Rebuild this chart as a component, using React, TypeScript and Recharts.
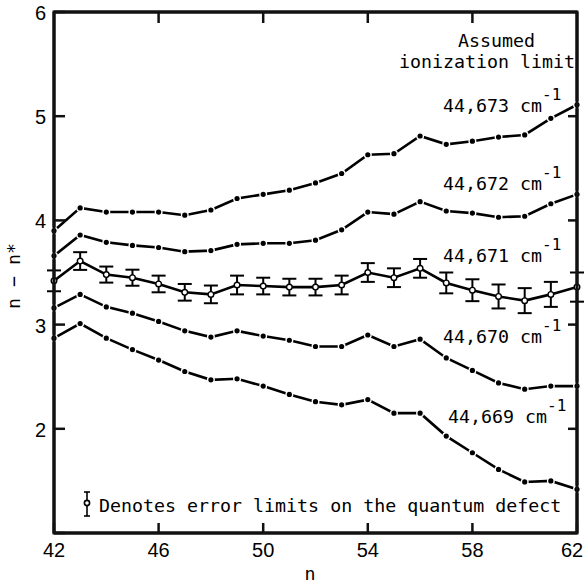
import { LineChart, Line, XAxis, YAxis, ErrorBar } from 'recharts';

const nValues = [42, 43, 44, 45, 46, 47, 48, 49, 50, 51, 52, 53, 54, 55, 56, 57, 58, 59, 60, 61, 62];
const limit673 = [3.90, 4.12, 4.08, 4.08, 4.08, 4.05, 4.10, 4.21, 4.25, 4.29, 4.36, 4.45, 4.63, 4.64, 4.81, 4.73, 4.76, 4.80, 4.82, 4.98, 5.11];
const limit672 = [3.66, 3.86, 3.79, 3.76, 3.74, 3.70, 3.71, 3.77, 3.78, 3.78, 3.81, 3.91, 4.08, 4.06, 4.18, 4.09, 4.07, 4.03, 4.04, 4.16, 4.25];
const limit671 = [3.42, 3.61, 3.48, 3.45, 3.39, 3.31, 3.29, 3.38, 3.37, 3.36, 3.36, 3.38, 3.50, 3.45, 3.54, 3.40, 3.33, 3.27, 3.23, 3.29, 3.36];
const error671 = [0.10, 0.085, 0.077, 0.077, 0.08, 0.08, 0.085, 0.09, 0.08, 0.08, 0.08, 0.09, 0.09, 0.09, 0.09, 0.10, 0.105, 0.115, 0.12, 0.12, 0.14];
const limit670 = [3.16, 3.29, 3.17, 3.11, 3.03, 2.94, 2.88, 2.94, 2.89, 2.85, 2.79, 2.79, 2.90, 2.79, 2.86, 2.68, 2.56, 2.44, 2.38, 2.41, 2.41];
const limit669 = [2.87, 3.01, 2.87, 2.76, 2.66, 2.55, 2.47, 2.48, 2.41, 2.33, 2.26, 2.23, 2.28, 2.15, 2.15, 1.93, 1.77, 1.61, 1.49, 1.50, 1.42];

const xTicks = [42, 46, 50, 54, 58, 62];
const yTicks = [1, 2, 3, 4, 5, 6];
const innerXTicks = [46, 50, 54, 58];
const innerYTicks = [2, 3, 4, 5];

const data = nValues.map((n, i) => ({
  n,
  l673: limit673[i],
  l672: limit672[i],
  l671: limit671[i],
  err: error671[i],
  l670: limit670[i],
  l669: limit669[i],
}));

const W = 584;
const H = 586;
const MONO = '"DejaVu Sans Mono", "Liberation Mono", monospace';
const SANS = '"Liberation Sans", Arial, sans-serif';

// plot box (54..577 x 12..533)
const PL = 54;
const PR = 577;
const PT = 12;
const PB = 533;

// tick lines point inward (negative tickSize), labels placed by hand
const BottomTick = ({ x, y, payload }: any) => (
  <text x={payload.value === 62 ? x - 4 : x} y={y + 34} textAnchor="middle" fontFamily={SANS} fontSize={20} fill="#000">
    {payload.value}
  </text>
);

const LeftTick = ({ x, y, payload }: any) =>
  payload.value === 1 ? (
    <g />
  ) : (
    <text x={x - 19} y={y + 8} textAnchor="end" fontFamily={SANS} fontSize={20} fill="#000">
      {payload.value}
    </text>
  );

const NoLabel = () => <g />;

const solidDot = (props: any) => {
  const { cx, cy, index } = props;
  if (cx === undefined || cy === undefined) return <g key={index} />;
  return <circle key={index} cx={cx} cy={cy} r={3.3} fill="#000" stroke="#fff" strokeWidth={1.4} />;
};

const openDot = (props: any) => {
  const { cx, cy, index } = props;
  if (cx === undefined || cy === undefined) return <g key={index} />;
  return <circle key={index} cx={cx} cy={cy} r={2.8} fill="#fff" stroke="#000" strokeWidth={1.4} />;
};

const labelRows = [
  { text: '44,673', y: 112 },
  { text: '44,672', y: 190 },
  { text: '44,671', y: 262 },
  { text: '44,670', y: 343 },
  { text: '44,669', y: 423, x: 448 },
];

const frameLine = { stroke: '#111', strokeWidth: 3 };
const tickLine = { stroke: '#111', strokeWidth: 2.5 };

export default function App() {
  return (
    <div style={{ position: 'absolute', left: 0, top: 0, width: W, height: H, background: '#fff' }}>
      <LineChart width={W} height={H} data={data} margin={{ top: 10, right: 5, left: 0, bottom: 0 }}>
        <XAxis
          dataKey="n"
          type="number"
          domain={[42, 62]}
          ticks={xTicks}
          height={53}
          tickSize={-10}
          tickMargin={0}
          tickLine={tickLine}
          axisLine={frameLine}
          tick={<BottomTick />}
        />
        <XAxis
          xAxisId="top"
          orientation="top"
          dataKey="n"
          type="number"
          domain={[42, 62]}
          ticks={innerXTicks}
          height={2}
          tickSize={-11}
          tickMargin={0}
          tickLine={tickLine}
          axisLine={frameLine}
          tick={<NoLabel />}
        />
        <YAxis
          type="number"
          domain={[1, 6]}
          ticks={yTicks}
          width={54}
          tickSize={-11}
          tickMargin={0}
          tickLine={tickLine}
          axisLine={frameLine}
          tick={<LeftTick />}
        />
        <YAxis
          yAxisId="right"
          orientation="right"
          type="number"
          domain={[1, 6]}
          ticks={innerYTicks}
          width={2}
          tickSize={-9}
          tickMargin={0}
          tickLine={tickLine}
          axisLine={frameLine}
          tick={<NoLabel />}
        />
        <Line xAxisId="top" yAxisId="right" dataKey="l673" stroke="none" dot={false} activeDot={false} isAnimationActive={false} />
        <Line dataKey="l673" type="linear" stroke="#000" strokeWidth={2.6} dot={solidDot} isAnimationActive={false} />
        <Line dataKey="l672" type="linear" stroke="#000" strokeWidth={2.6} dot={solidDot} isAnimationActive={false} />
        <Line dataKey="l671" type="linear" stroke="#000" strokeWidth={2.6} dot={openDot} isAnimationActive={false}>
          <ErrorBar dataKey="err" width={7} stroke="#000" strokeWidth={2} direction="y" />
        </Line>
        <Line dataKey="l670" type="linear" stroke="#000" strokeWidth={2.6} dot={solidDot} isAnimationActive={false} />
        <Line dataKey="l669" type="linear" stroke="#000" strokeWidth={2.6} dot={solidDot} isAnimationActive={false} />
      </LineChart>
      <svg width={W} height={H} style={{ position: 'absolute', left: 0, top: 0, pointerEvents: 'none' }}>
        <path d={`M${PL} ${PT}H${PR}V${PB}H${PL}Z`} fill="none" stroke="#111" strokeWidth={3} />
        <g fontFamily={MONO} fontSize={18.3} fill="#000">
          <text x={535} y={47} textAnchor="end">Assumed</text>
          <text x={575} y={68} textAnchor="end">ionization limit</text>
          {labelRows.map((r) => (
            <text key={r.text} x={r.x ?? 443} y={r.y}>
              {r.text} cm
              <tspan dy={-12} fontSize={16}>-1</tspan>
            </text>
          ))}
          <text x={99} y={512}>Denotes error limits on the quantum defect</text>
          <text x={310} y={580} textAnchor="middle">n</text>
          <text x={20} y={276} textAnchor="middle" transform="rotate(-90 20 276)">n − n*</text>
        </g>
        <g stroke="#000" strokeWidth={1.6}>
          <line x1={87} y1={492} x2={87} y2={516} />
          <line x1={84} y1={492} x2={90} y2={492} />
          <line x1={84} y1={516} x2={90} y2={516} />
          <circle cx={87} cy={503} r={2.6} fill="#fff" />
        </g>
      </svg>
    </div>
  );
}
